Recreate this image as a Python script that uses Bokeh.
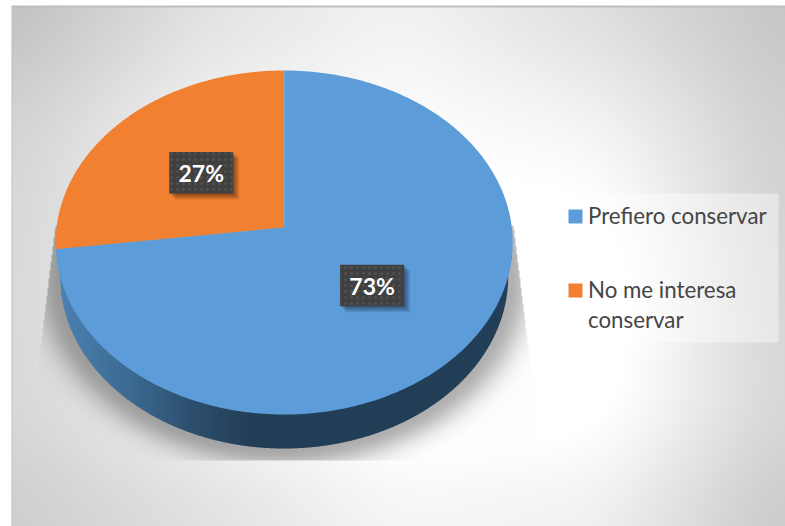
import numpy as np
from bokeh.plotting import figure
from bokeh.core.properties import value
from bokeh.embed import file_html
from bokeh.resources import INLINE

categories = ["Prefiero conservar", "No me interesa conservar"]
values = [73, 27]
colors = ["#5C9CD9", "#F18031"]
legend_lines = [["Prefiero conservar"], ["No me interesa", "conservar"]]

W, H = 785, 526
def Y(y):
    return H - np.asarray(y, dtype=float)

# --- background: brightness control grid + soft pie shadow (style only)
gx = [11, 200, 400, 600, 785]
gy = [5, 130, 265, 400, 526]
grid = np.array([
    [190, 224, 242, 220, 196],
    [212, 244, 255, 246, 206],
    [216, 250, 262, 266, 208],
    [216, 244, 264, 262, 214],
    [204, 222, 244, 238, 198],
], dtype=float)
px = np.arange(W) + .5
py = np.arange(H) + .5
tmp = np.array([np.interp(px, gx, row) for row in grid])
bg = np.array([np.interp(py, gy, tmp[:, i]) for i in range(W)]).T
for _ in range(3):
    k = 61
    kern = np.ones(k) / k
    pad = np.pad(bg, k // 2, mode="edge")
    pad = np.apply_along_axis(lambda r: np.convolve(r, kern, "valid"), 1, pad)
    pad = np.apply_along_axis(lambda r: np.convolve(r, kern, "valid"), 0, pad)
    bg = pad

xx, yy = np.meshgrid(px, py)
cx, top_cy, rx, ry, depth = 283.7, 242.0, 228.5, 172.0, 34.0
rx2 = 224.0
rho = np.sqrt(((xx - cx) / rx2) ** 2 + ((yy - (top_cy + depth)) / ry) ** 2)
d = np.clip((rho - 1) * 175, 0, None)
alpha = 0.31 * np.exp(-(d / 20.0) ** 2)
left_edge = 55 - (yy - 225) * 14 / 115
right_edge = 513 + (yy - 225) * 14 / 115
inside = (xx >= left_edge) & (xx <= right_edge) & (yy <= 460) & (yy >= 225)
alpha = np.where(inside, alpha, 0)
bg = np.clip(bg, 0, 255) * (1 - alpha)

img = np.empty((H, W), dtype=np.uint32)
view = img.view(dtype=np.uint8).reshape((H, W, 4))
g8 = np.clip(bg, 0, 255).astype(np.uint8)
view[..., 0] = g8
view[..., 1] = g8
view[..., 2] = g8
view[..., 3] = 255
view[xx < 11] = 255
view[yy < 5] = 255
view[(xx >= 11) & (xx < 12.5) & (yy >= 5)] = [190, 190, 190, 255]
view[(yy >= 5) & (yy < 7) & (xx >= 11)] = [190, 190, 190, 255]
img = img[::-1]

p = figure(width=W, height=H, x_range=(0, W), y_range=(0, H), output_backend="svg",
           toolbar_location=None, min_border=0, outline_line_color=None,
           x_axis_location=None, y_axis_location=None, background_fill_color="white")
p.grid.visible = False
p.image_rgba(image=[img], x=0, y=0, dw=W, dh=H)

# --- perspective projection of the pie plate onto the screen
apex_y = 227.0
b = apex_y - top_cy
c = b / ry
kx = rx * np.sqrt(1 - c * c)
def project(theta, r=1.0):
    u = -np.sin(theta) * r
    v = -np.cos(theta) * r
    w = 1 + c * v
    return cx + kx * u / w, top_cy + (ry * v + b) / w

# --- wall
stops_x = [56, 67, 130, 190, 247, 512]
stops_r = [0x4E, 0x4A, 0x3C, 0x2E, 0x24, 0x22]
stops_g = [0x86, 0x7F, 0x6A, 0x50, 0x3F, 0x3F]
stops_b = [0xB6, 0xAE, 0x92, 0x6F, 0x58, 0x57]
wx = np.arange(55, 511, 2.0)
xs, ys, cols = [], [], []
def top_edge(x):
    return top_cy + ry * np.sqrt(np.clip(1 - ((x - cx) / rx) ** 2, 0, 1))
def low_edge(x):
    o = np.abs(x - cx)
    if o >= rx2:
        return top_cy + (rx - o) / (rx - rx2) * depth
    return top_cy + depth + ry * np.sqrt(1 - (o / rx2) ** 2)
for x0 in wx:
    x1 = min(x0 + 2.5, cx + rx)
    sub = np.linspace(x0, x1, 4)
    t = [top_edge(s) - 2 for s in sub]
    l = [low_edge(s) for s in sub]
    xs.append(list(sub) + list(sub[::-1]))
    ys.append(list(Y(t)) + list(Y(l[::-1])))
    m = x0 + 1
    cols.append("#%02x%02x%02x" % (int(np.interp(m, stops_x, stops_r)),
                                   int(np.interp(m, stops_x, stops_g)),
                                   int(np.interp(m, stops_x, stops_b))))
p.patches(xs, ys, fill_color=cols, line_color=None)

# --- slices: the last category starts at 12 o'clock and runs counter-clockwise
total = sum(values)
start = 0.0
centres = {}
for i in [1, 0]:
    sweep = values[i] / total * 2 * np.pi
    th = np.linspace(start, start + sweep, 240)
    ex, ey = project(th)
    sx = [project(0, 0)[0]] + list(ex)
    sy = [project(0, 0)[1]] + list(ey)
    p.patch(sx, list(Y(sy)), fill_color=colors[i], line_color=None)
    centres[i] = project(start + sweep / 2, 0.5)
    start += sweep

# --- data labels
bw, bh = 64.0, 41.5
for i in range(2):
    lx, ly = centres[i]
    for o in range(1, 7):
        p.quad(left=lx - bw / 2 + o, right=lx + bw / 2 + o,
               bottom=Y(ly + bh / 2 + o), top=Y(ly - bh / 2 + o),
               fill_color="black", fill_alpha=0.08, line_color=None)
    p.quad(left=lx - bw / 2, right=lx + bw / 2, bottom=Y(ly + bh / 2), top=Y(ly - bh / 2),
           fill_color="#404040", line_color=None, hatch_pattern="dot", hatch_color="#505050",
           hatch_scale=6, hatch_weight=1)
    p.text([lx], [Y(ly)], text=[f"{values[i]}%"], text_color="white", text_align="center",
           text_baseline="middle", text_font=value("Lato"), text_font_style="bold",
           text_font_size="23px")

# --- legend
p.quad(left=555, right=778, bottom=Y(342), top=Y(193), fill_color="white", fill_alpha=0.42,
       line_color=None)
line_ys = [[216], [290, 320]]
for i in range(2):
    y0 = line_ys[i][0]
    p.quad(left=568, right=582, bottom=Y(y0 + 7), top=Y(y0 - 7), fill_color=colors[i],
           line_color=None)
    for txt, yy_ in zip(legend_lines[i], line_ys[i]):
        p.text([587.5], [Y(yy_ - 1)], text=[txt], text_color="#454545", text_align="left",
               text_baseline="middle", text_font=value("Lato"), text_font_size="22.3px")

open("out.html", "w").write(file_html(p, INLINE))
